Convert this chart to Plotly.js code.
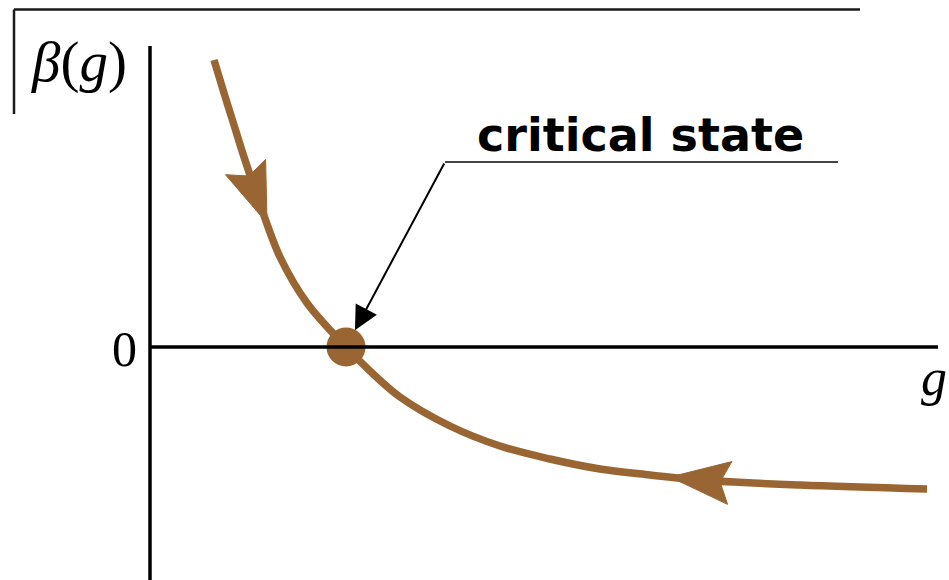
<!DOCTYPE html>
<html>
<head>
<meta charset="utf-8">
<script src="https://cdn.plot.ly/plotly-3.0.1.min.js"></script>
<style>
  html, body { margin: 0; padding: 0; background: #ffffff; }
  #chart { width: 949px; height: 580px; }
</style>
</head>
<body>
<div id="chart"></div>
<script>
// Beta function of the coupling g: flows toward the fixed point where beta(g) = 0
const couplingG = [0.64, 0.74, 0.84, 0.95, 1.12, 1.30, 1.57, 1.96, 2.20, 2.50, 3.00, 3.50, 4.00, 4.50, 5.00, 5.50, 6.50, 7.77];
const betaOfG   = [2.87, 2.54, 2.22, 1.87, 1.37, 0.90, 0.44, 0.00, -0.24, -0.50, -0.79, -0.99, -1.12, -1.22, -1.28, -1.33, -1.38, -1.42];

// Fixed point (critical state)
const criticalG = 1.96;
const criticalBeta = 0;

// Flow arrows: position along g and whether they point toward larger g
const flowArrowG   = [1.17, 5.20];
const flowArrowDir = [1, -1];

const curveColor = '#996633';

// Linear lookup on the curve for placing flow arrows
function betaAt(x) {
  for (let i = 0; i < couplingG.length - 1; i++) {
    const a = couplingG[i], b = couplingG[i + 1];
    if (x >= a && x <= b) {
      const t = (x - a) / (b - a);
      return betaOfG[i] + t * (betaOfG[i + 1] - betaOfG[i]);
    }
  }
  return betaOfG[betaOfG.length - 1];
}

// Filled, notched arrowhead whose tip sits on the curve
function arrowHeadPath(gTip, dir) {
  const bTip = betaAt(gTip);
  const h = 0.03;
  let dx = dir * 2 * h;
  let dy = betaAt(gTip + dir * h) - betaAt(gTip - dir * h);
  const len = Math.hypot(dx, dy);
  dx /= len; dy /= len;
  const nx = -dy, ny = dx;
  const L = 0.6, W = 0.43, notch = 0.84;
  const p = [
    [gTip, bTip],
    [gTip - L * dx + W / 2 * nx, bTip - L * dy + W / 2 * ny],
    [gTip - notch * L * dx, bTip - notch * L * dy],
    [gTip - L * dx - W / 2 * nx, bTip - L * dy - W / 2 * ny]
  ];
  return 'M' + p.map(q => q[0].toFixed(4) + ',' + q[1].toFixed(4)).join(' L') + ' Z';
}

const traces = [
  {
    x: couplingG, y: betaOfG,
    mode: 'lines', type: 'scatter',
    line: { color: curveColor, width: 7.5, shape: 'spline', smoothing: 1 },
    hoverinfo: 'skip'
  },
  {
    x: [criticalG], y: [criticalBeta],
    mode: 'markers', type: 'scatter',
    marker: { color: curveColor, size: 39 },
    hoverinfo: 'skip'
  }
];

const shapes = [
  // vertical axis
  { type: 'line', xref: 'x', yref: 'y', x0: 0, x1: 0, y0: -2.5, y1: 3.01, line: { color: '#000', width: 3.5 } },
  // horizontal axis
  { type: 'line', xref: 'x', yref: 'y', x0: 0, x1: 7.88, y0: 0, y1: 0, line: { color: '#000', width: 3.5 } },
  // frame lines at top left
  { type: 'line', xref: 'x', yref: 'y', x0: -1.36, x1: 7.10, y0: 3.375, y1: 3.375, line: { color: '#1a1a1a', width: 2.5 } },
  { type: 'line', xref: 'x', yref: 'y', x0: -1.36, x1: -1.36, y0: 3.375, y1: 2.33, line: { color: '#1a1a1a', width: 2.5 } },
  // label underline
  { type: 'line', xref: 'x', yref: 'y', x0: 2.95, x1: 6.88, y0: 1.85, y1: 1.85, line: { color: '#444', width: 2 } }
];
flowArrowG.forEach((gx, i) => {
  shapes.push({
    type: 'path', xref: 'x', yref: 'y',
    path: arrowHeadPath(gx, flowArrowDir[i]),
    fillcolor: curveColor, line: { color: curveColor, width: 1 }
  });
});

const serif = 'Liberation Serif, Times New Roman, serif';
const annotations = [
  { x: -0.71, y: 2.85, xref: 'x', yref: 'y', text: '<i>β</i>(<i>g</i>)', showarrow: false,
    font: { family: serif, size: 57, color: '#000' } },
  { x: -0.26, y: -0.02, xref: 'x', yref: 'y', text: '0', showarrow: false,
    font: { family: serif, size: 50, color: '#000' } },
  { x: 7.84, y: -0.30, xref: 'x', yref: 'y', text: '<i>g</i>', showarrow: false,
    font: { family: serif, size: 52, color: '#000' } },
  { x: 4.90, y: 2.12, xref: 'x', yref: 'y', text: '<b>critical state</b>', showarrow: false,
    font: { family: 'DejaVu Sans, sans-serif', size: 46, color: '#000' } },
  { x: criticalG, y: criticalBeta, xref: 'x', yref: 'y', ax: 2.95, ay: 1.85, axref: 'x', ayref: 'y',
    text: '', showarrow: true, arrowhead: 2, arrowsize: 2.4, arrowwidth: 2, arrowcolor: '#000', standoff: 19 }
];

const layout = {
  width: 949, height: 580,
  margin: { l: 0, r: 0, t: 0, b: 0 },
  paper_bgcolor: '#fff', plot_bgcolor: '#fff',
  showlegend: false,
  xaxis: { range: [-1.5, 7.99], visible: false, fixedrange: true },
  yaxis: { range: [-2.33, 3.47], visible: false, fixedrange: true },
  shapes: shapes,
  annotations: annotations
};

Plotly.newPlot('chart', traces, layout, { staticPlot: true, displayModeBar: false });
</script>
</body>
</html>
